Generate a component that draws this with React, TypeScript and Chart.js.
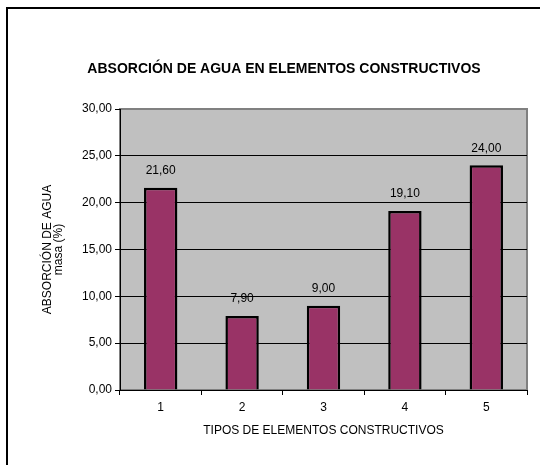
import React, { useEffect, useRef } from "react";
import { Chart, registerables } from "chart.js";

Chart.register(...registerables);

const categories = ["1", "2", "3", "4", "5"];
const values = [21.6, 7.9, 9.0, 19.1, 24.0];
const yTicks = [0, 5, 10, 15, 20, 25, 30];
const chartTitle = "ABSORCIÓN DE AGUA EN ELEMENTOS CONSTRUCTIVOS";
const yTitle = ["ABSORCIÓN DE AGUA", "masa (%)"];
const xTitle = "TIPOS DE ELEMENTOS CONSTRUCTIVOS";

const FONT = "'Liberation Sans', Arial, Helvetica, sans-serif";
const fmt = (v: number) => v.toFixed(2).replace(".", ",");

const plotBg = {
  id: "plotBg",
  beforeDraw(chart: any) {
    const { ctx, chartArea: a } = chart;
    ctx.save();
    ctx.fillStyle = "#C0C0C0";
    ctx.fillRect(a.left, a.top, a.right - a.left, a.bottom - a.top);
    ctx.strokeStyle = "#808080";
    ctx.lineWidth = 2;
    ctx.strokeRect(a.left, a.top, a.right - a.left, a.bottom - a.top);
    ctx.restore();
  },
};

const mainTitle = {
  id: "mainTitle",
  afterDraw(chart: any) {
    const { ctx } = chart;
    ctx.save();
    ctx.font = `bold 14px ${FONT}`;
    ctx.fillStyle = "#000";
    ctx.textAlign = "center";
    ctx.textBaseline = "middle";
    ctx.fillText(chartTitle, 284, 69);
    ctx.restore();
  },
};

const dataLabels = {
  id: "dataLabels",
  afterDatasetsDraw(chart: any) {
    const { ctx } = chart;
    const meta = chart.getDatasetMeta(0);
    ctx.save();
    ctx.font = `12px ${FONT}`;
    ctx.fillStyle = "#000";
    ctx.textAlign = "center";
    ctx.textBaseline = "middle";
    meta.data.forEach((bar: any, i: number) => {
      ctx.fillText(fmt(values[i]), bar.x, bar.y - 17);
    });
    ctx.restore();
  },
};

export default function App() {
  const ref = useRef<HTMLCanvasElement>(null);
  useEffect(() => {
    if (!ref.current) return;
    const chart = new Chart(ref.current, {
      type: "bar",
      data: {
        labels: categories,
        datasets: [
          {
            data: values,
            backgroundColor: "#993366",
            borderColor: "#000000",
            borderWidth: 2.5,
            barPercentage: 0.41,
            categoryPercentage: 1,
          },
        ],
      },
      options: {
        responsive: false,
        animation: false,
        events: [],
        layout: { padding: { left: 0, right: 13, top: 109, bottom: 0 } },
        plugins: {
          legend: { display: false },
          tooltip: { enabled: false },
          title: { display: false },
        },
        scales: {
          x: {
            grid: {
              offset: true,
              drawOnChartArea: false,
              drawTicks: true,
              tickLength: 5,
              tickColor: "#000",
            },
            border: { display: true, color: "#000", width: 1 },
            ticks: { color: "#000", font: { family: FONT, size: 12 }, padding: 5 },
            title: {
              display: true,
              text: xTitle,
              color: "#000",
              font: { family: FONT, size: 12 },
              padding: { top: 0, bottom: 26.8 },
            },
            afterFit: (s: any) => {
              s.height = 75;
            },
          },
          y: {
            min: 0,
            max: 30,
            afterBuildTicks: (s: any) => {
              s.ticks = yTicks.map((v) => ({ value: v }));
            },
            grid: {
              color: (c: any) => (c.tick && (c.tick.value === 30 || c.tick.value === 0) ? "rgba(0,0,0,0)" : "#000"),
              lineWidth: 1,
              drawTicks: true,
              tickLength: 5,
              tickColor: "#000",
            },
            border: { display: true, color: "#000", width: 1 },
            ticks: {
              color: "#000",
              font: { family: FONT, size: 12 },
              padding: 3,
              callback: (v: any) => fmt(Number(v)),
            },
            title: {
              display: true,
              text: yTitle,
              color: "#000",
              font: { family: FONT, size: 12, lineHeight: 0.95 },
              padding: { top: 42, bottom: 0 },
            },
            afterFit: (s: any) => {
              s.width = 120;
            },
          },
        },
      },
      plugins: [plotBg, dataLabels, mainTitle],
    });
    return () => chart.destroy();
  }, []);

  return (
    <div style={{ position: "absolute", left: 0, top: 0, width: 540, height: 465, background: "#fff" }}>
      <div
        style={{
          position: "absolute",
          left: 6,
          top: 7,
          right: 0,
          bottom: 0,
          borderTop: "2px solid #000",
          borderLeft: "2px solid #000",
        }}
      />
      <canvas ref={ref} width={540} height={465} style={{ position: "absolute", left: 0, top: 0 }} />
    </div>
  );
}
